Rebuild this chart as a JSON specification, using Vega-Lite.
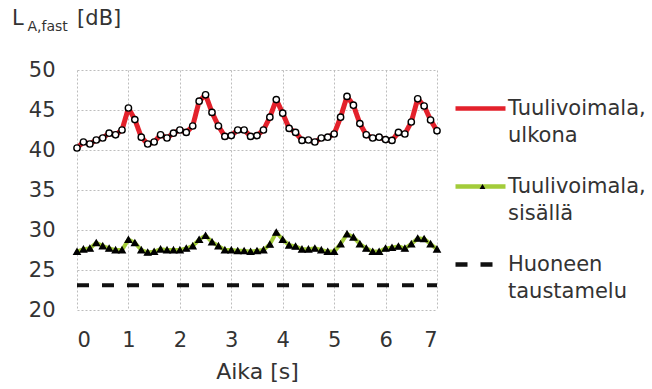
{
  "$schema": "https://vega.github.io/schema/vega-lite/v6.json",
  "width": 360,
  "height": 240,
  "autosize": "none",
  "padding": {"left": 77, "top": 70, "right": 215, "bottom": 79},
  "background": "white",
  "title": {
    "text": "L\u00a0\u00a0\u00a0\u00a0\u00a0\u00a0\u00a0\u00a0[dB]",
    "anchor": "start",
    "frame": "group",
    "font": "DejaVu Sans",
    "fontSize": 21,
    "fontWeight": "normal",
    "color": "#333333",
    "dx": -65,
    "dy": 14
  },
  "config": {
    "view": {"stroke": null},
    "font": "DejaVu Sans",
    "axis": {
      "grid": true,
      "gridColor": "#bdbdbd",
      "gridDash": [2, 2],
      "gridWidth": 1,
      "domain": false,
      "ticks": false,
      "labelFont": "DejaVu Sans",
      "labelFontSize": 21,
      "labelColor": "#333333",
      "titleFont": "DejaVu Sans",
      "titleFontSize": 21,
      "titleFontWeight": "normal",
      "titleColor": "#333333"
    }
  },
  "datasets": {
    "main": [
      {"t": 0, "L": 40.25, "series": "Tuulivoimala, ulkona"},
      {"t": 0.125, "L": 41.0, "series": "Tuulivoimala, ulkona"},
      {"t": 0.25, "L": 40.75, "series": "Tuulivoimala, ulkona"},
      {"t": 0.375, "L": 41.25, "series": "Tuulivoimala, ulkona"},
      {"t": 0.5, "L": 41.5, "series": "Tuulivoimala, ulkona"},
      {"t": 0.625, "L": 42.1, "series": "Tuulivoimala, ulkona"},
      {"t": 0.75, "L": 41.9, "series": "Tuulivoimala, ulkona"},
      {"t": 0.875, "L": 42.5, "series": "Tuulivoimala, ulkona"},
      {"t": 1.0, "L": 45.25, "series": "Tuulivoimala, ulkona"},
      {"t": 1.125, "L": 43.8, "series": "Tuulivoimala, ulkona"},
      {"t": 1.25, "L": 41.6, "series": "Tuulivoimala, ulkona"},
      {"t": 1.375, "L": 40.75, "series": "Tuulivoimala, ulkona"},
      {"t": 1.5, "L": 41.0, "series": "Tuulivoimala, ulkona"},
      {"t": 1.625, "L": 41.9, "series": "Tuulivoimala, ulkona"},
      {"t": 1.75, "L": 41.5, "series": "Tuulivoimala, ulkona"},
      {"t": 1.875, "L": 42.1, "series": "Tuulivoimala, ulkona"},
      {"t": 2.0, "L": 42.5, "series": "Tuulivoimala, ulkona"},
      {"t": 2.125, "L": 42.2, "series": "Tuulivoimala, ulkona"},
      {"t": 2.25, "L": 43.0, "series": "Tuulivoimala, ulkona"},
      {"t": 2.375, "L": 46.1, "series": "Tuulivoimala, ulkona"},
      {"t": 2.5, "L": 46.9, "series": "Tuulivoimala, ulkona"},
      {"t": 2.625, "L": 44.7, "series": "Tuulivoimala, ulkona"},
      {"t": 2.75, "L": 43.0, "series": "Tuulivoimala, ulkona"},
      {"t": 2.875, "L": 41.7, "series": "Tuulivoimala, ulkona"},
      {"t": 3.0, "L": 41.8, "series": "Tuulivoimala, ulkona"},
      {"t": 3.125, "L": 42.5, "series": "Tuulivoimala, ulkona"},
      {"t": 3.25, "L": 42.5, "series": "Tuulivoimala, ulkona"},
      {"t": 3.375, "L": 41.7, "series": "Tuulivoimala, ulkona"},
      {"t": 3.5, "L": 41.8, "series": "Tuulivoimala, ulkona"},
      {"t": 3.625, "L": 42.5, "series": "Tuulivoimala, ulkona"},
      {"t": 3.75, "L": 44.1, "series": "Tuulivoimala, ulkona"},
      {"t": 3.875, "L": 46.3, "series": "Tuulivoimala, ulkona"},
      {"t": 4.0, "L": 44.6, "series": "Tuulivoimala, ulkona"},
      {"t": 4.125, "L": 42.7, "series": "Tuulivoimala, ulkona"},
      {"t": 4.25, "L": 42.2, "series": "Tuulivoimala, ulkona"},
      {"t": 4.375, "L": 41.2, "series": "Tuulivoimala, ulkona"},
      {"t": 4.5, "L": 41.25, "series": "Tuulivoimala, ulkona"},
      {"t": 4.625, "L": 41.0, "series": "Tuulivoimala, ulkona"},
      {"t": 4.75, "L": 41.5, "series": "Tuulivoimala, ulkona"},
      {"t": 4.875, "L": 41.6, "series": "Tuulivoimala, ulkona"},
      {"t": 5.0, "L": 42.0, "series": "Tuulivoimala, ulkona"},
      {"t": 5.125, "L": 44.1, "series": "Tuulivoimala, ulkona"},
      {"t": 5.25, "L": 46.7, "series": "Tuulivoimala, ulkona"},
      {"t": 5.375, "L": 45.6, "series": "Tuulivoimala, ulkona"},
      {"t": 5.5, "L": 43.3, "series": "Tuulivoimala, ulkona"},
      {"t": 5.625, "L": 41.9, "series": "Tuulivoimala, ulkona"},
      {"t": 5.75, "L": 41.5, "series": "Tuulivoimala, ulkona"},
      {"t": 5.875, "L": 41.6, "series": "Tuulivoimala, ulkona"},
      {"t": 6.0, "L": 41.3, "series": "Tuulivoimala, ulkona"},
      {"t": 6.125, "L": 41.2, "series": "Tuulivoimala, ulkona"},
      {"t": 6.25, "L": 42.2, "series": "Tuulivoimala, ulkona"},
      {"t": 6.375, "L": 42.0, "series": "Tuulivoimala, ulkona"},
      {"t": 6.5, "L": 43.5, "series": "Tuulivoimala, ulkona"},
      {"t": 6.625, "L": 46.4, "series": "Tuulivoimala, ulkona"},
      {"t": 6.75, "L": 45.5, "series": "Tuulivoimala, ulkona"},
      {"t": 6.875, "L": 43.75, "series": "Tuulivoimala, ulkona"},
      {"t": 7.0, "L": 42.4, "series": "Tuulivoimala, ulkona"},
      {"t": 0, "L": 27.3, "series": "Tuulivoimala, sisällä"},
      {"t": 0.125, "L": 27.6, "series": "Tuulivoimala, sisällä"},
      {"t": 0.25, "L": 27.7, "series": "Tuulivoimala, sisällä"},
      {"t": 0.375, "L": 28.4, "series": "Tuulivoimala, sisällä"},
      {"t": 0.5, "L": 28.0, "series": "Tuulivoimala, sisällä"},
      {"t": 0.625, "L": 27.7, "series": "Tuulivoimala, sisällä"},
      {"t": 0.75, "L": 27.5, "series": "Tuulivoimala, sisällä"},
      {"t": 0.875, "L": 27.5, "series": "Tuulivoimala, sisällä"},
      {"t": 1.0, "L": 28.8, "series": "Tuulivoimala, sisällä"},
      {"t": 1.125, "L": 28.4, "series": "Tuulivoimala, sisällä"},
      {"t": 1.25, "L": 27.5, "series": "Tuulivoimala, sisällä"},
      {"t": 1.375, "L": 27.2, "series": "Tuulivoimala, sisällä"},
      {"t": 1.5, "L": 27.3, "series": "Tuulivoimala, sisällä"},
      {"t": 1.625, "L": 27.6, "series": "Tuulivoimala, sisällä"},
      {"t": 1.75, "L": 27.5, "series": "Tuulivoimala, sisällä"},
      {"t": 1.875, "L": 27.5, "series": "Tuulivoimala, sisällä"},
      {"t": 2.0, "L": 27.5, "series": "Tuulivoimala, sisällä"},
      {"t": 2.125, "L": 27.7, "series": "Tuulivoimala, sisällä"},
      {"t": 2.25, "L": 28.0, "series": "Tuulivoimala, sisällä"},
      {"t": 2.375, "L": 28.8, "series": "Tuulivoimala, sisällä"},
      {"t": 2.5, "L": 29.3, "series": "Tuulivoimala, sisällä"},
      {"t": 2.625, "L": 28.5, "series": "Tuulivoimala, sisällä"},
      {"t": 2.75, "L": 28.0, "series": "Tuulivoimala, sisällä"},
      {"t": 2.875, "L": 27.5, "series": "Tuulivoimala, sisällä"},
      {"t": 3.0, "L": 27.5, "series": "Tuulivoimala, sisällä"},
      {"t": 3.125, "L": 27.4, "series": "Tuulivoimala, sisällä"},
      {"t": 3.25, "L": 27.4, "series": "Tuulivoimala, sisällä"},
      {"t": 3.375, "L": 27.3, "series": "Tuulivoimala, sisällä"},
      {"t": 3.5, "L": 27.4, "series": "Tuulivoimala, sisällä"},
      {"t": 3.625, "L": 27.5, "series": "Tuulivoimala, sisällä"},
      {"t": 3.75, "L": 28.2, "series": "Tuulivoimala, sisällä"},
      {"t": 3.875, "L": 29.7, "series": "Tuulivoimala, sisällä"},
      {"t": 4.0, "L": 28.8, "series": "Tuulivoimala, sisällä"},
      {"t": 4.125, "L": 28.1, "series": "Tuulivoimala, sisällä"},
      {"t": 4.25, "L": 27.95, "series": "Tuulivoimala, sisällä"},
      {"t": 4.375, "L": 27.6, "series": "Tuulivoimala, sisällä"},
      {"t": 4.5, "L": 27.6, "series": "Tuulivoimala, sisällä"},
      {"t": 4.625, "L": 27.7, "series": "Tuulivoimala, sisällä"},
      {"t": 4.75, "L": 27.5, "series": "Tuulivoimala, sisällä"},
      {"t": 4.875, "L": 27.3, "series": "Tuulivoimala, sisällä"},
      {"t": 5.0, "L": 27.3, "series": "Tuulivoimala, sisällä"},
      {"t": 5.125, "L": 28.25, "series": "Tuulivoimala, sisällä"},
      {"t": 5.25, "L": 29.5, "series": "Tuulivoimala, sisällä"},
      {"t": 5.375, "L": 29.1, "series": "Tuulivoimala, sisällä"},
      {"t": 5.5, "L": 28.25, "series": "Tuulivoimala, sisällä"},
      {"t": 5.625, "L": 27.7, "series": "Tuulivoimala, sisällä"},
      {"t": 5.75, "L": 27.3, "series": "Tuulivoimala, sisällä"},
      {"t": 5.875, "L": 27.3, "series": "Tuulivoimala, sisällä"},
      {"t": 6.0, "L": 27.7, "series": "Tuulivoimala, sisällä"},
      {"t": 6.125, "L": 27.8, "series": "Tuulivoimala, sisällä"},
      {"t": 6.25, "L": 27.95, "series": "Tuulivoimala, sisällä"},
      {"t": 6.375, "L": 27.7, "series": "Tuulivoimala, sisällä"},
      {"t": 6.5, "L": 28.25, "series": "Tuulivoimala, sisällä"},
      {"t": 6.625, "L": 28.95, "series": "Tuulivoimala, sisällä"},
      {"t": 6.75, "L": 28.9, "series": "Tuulivoimala, sisällä"},
      {"t": 6.875, "L": 28.25, "series": "Tuulivoimala, sisällä"},
      {"t": 7.0, "L": 27.6, "series": "Tuulivoimala, sisällä"},
      {"t": 0, "L": 23.1, "series": "Huoneen taustamelu"},
      {"t": 7, "L": 23.1, "series": "Huoneen taustamelu"}
    ]
  },
  "data": {"name": "main"},
  "encoding": {
    "x": {
      "field": "t",
      "type": "quantitative",
      "scale": {"domain": [0, 7], "nice": false, "zero": false},
      "axis": {"values": [0, 1, 2, 3, 4, 5, 6, 7], "title": "Aika [s]", "titleFontSize": 22, "labelPadding": 19, "titlePadding": 11}
    },
    "y": {
      "field": "L",
      "type": "quantitative",
      "scale": {"domain": [20, 50], "nice": false, "zero": false},
      "axis": {
        "values": [20, 25, 30, 35, 40, 45, 50],
        "title": "A,fast",
        "titleFontSize": 14,
        "labelPadding": 22,
        "titleAngle": 0,
        "titleX": -50,
        "titleY": -40,
        "titleAlign": "left",
        "titleBaseline": "alphabetic"
      }
    }
  },
  "layer": [
    {
      "mark": {"type": "line", "strokeCap": "butt", "strokeJoin": "round"},
      "encoding": {
        "color": {
          "field": "series",
          "type": "nominal",
          "scale": {
            "domain": ["Tuulivoimala, ulkona", "Tuulivoimala, sisällä", "Huoneen taustamelu"],
            "range": ["#e3212b", "#a3cc3a", "#111111"]
          },
          "legend": {
            "orient": "none",
            "legendX": 376,
            "legendY": 11,
            "zindex": 0,
            "title": null,
            "padding": 0,
            "symbolType": "stroke",
            "symbolSize": 2500,
            "symbolStrokeWidth": 4.5,
            "labelFontSize": 21,
            "labelColor": "#333333",
            "labelFont": "DejaVu Sans",
            "labelOffset": 0,
            "labelLimit": 300,
            "rowPadding": 13,
            "labelExpr": "split(replace(datum.label, ' ', '|'), '|')",
            "encode": {"labels": {"update": {"lineHeight": {"value": 27}}}}
          }
        },
        "strokeDash": {
          "field": "series",
          "type": "nominal",
          "scale": {
            "domain": ["Tuulivoimala, ulkona", "Tuulivoimala, sisällä", "Huoneen taustamelu"],
            "range": [[1, 0], [1, 0], [12, 13]]
          }
        },
        "strokeWidth": {
          "condition": {"test": "datum.series == 'Tuulivoimala, ulkona'", "value": 5},
          "value": 4
        }
      }
    },
    {
      "transform": [{"filter": "datum.series != 'Huoneen taustamelu'"}],
      "mark": {"type": "point", "stroke": "black", "strokeWidth": 1.4, "size": 40, "opacity": 1},
      "encoding": {
        "shape": {
          "field": "series",
          "type": "nominal",
          "scale": {
            "domain": ["Tuulivoimala, ulkona", "Tuulivoimala, sisällä"],
            "range": ["circle", "triangle-up"]
          },
          "legend": {
            "orient": "none",
            "legendX": 395,
            "legendY": 11,
            "zindex": 1,
            "title": null,
            "padding": 0,
            "symbolSize": 34,
            "symbolStrokeColor": "black",
            "symbolStrokeWidth": 1.4,
            "labelFontSize": 21,
            "labelColor": "rgba(255,255,255,0)",
            "labelFont": "DejaVu Sans",
            "labelLimit": 300,
            "rowPadding": 50,
            "labelExpr": "split(replace(datum.label, ' ', '|'), '|')",
            "encode": {"labels": {"update": {"lineHeight": {"value": 27}}}}
          }
        },
        "fill": {
          "field": "series",
          "type": "nominal",
          "scale": {
            "domain": ["Tuulivoimala, ulkona", "Tuulivoimala, sisällä"],
            "range": ["white", "black"]
          }
        }
      }
    }
  ]
}
